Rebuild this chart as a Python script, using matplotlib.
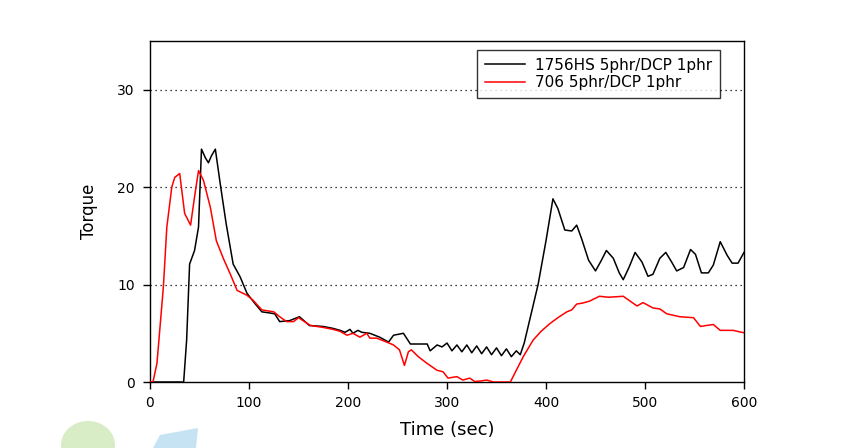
import matplotlib
matplotlib.use("Agg")
import matplotlib.pyplot as plt
from matplotlib.patches import Ellipse, Polygon

plt.rcParams['font.family'] = ['DejaVu Sans']

# ---- data ----
t_black = [0, 34, 37, 40, 45, 49, 52, 56, 59, 62, 66, 71, 77, 84, 91, 98, 106, 113,
           120, 126, 131, 141, 151, 161, 175, 185, 192, 197, 202, 205, 210, 214, 222,
           232, 241, 246, 256, 263, 270, 280, 283, 290, 295, 300, 305, 310, 315, 320,
           325, 330, 335, 340, 345, 350, 355, 360, 365, 370, 374, 378, 385, 392, 400,
           407, 412, 419, 426, 431, 436, 443, 450, 456, 461, 468, 474, 478, 484, 490,
           497, 503, 508, 515, 521, 527, 532, 539, 546, 551, 557, 564, 569, 576, 583,
           588, 594, 600]
torque_black = [0, 0, 4.3, 12.1, 13.5, 15.9, 23.9, 23.0, 22.5, 23.2, 23.9, 20.3, 16.2,
                12.1, 10.8, 9.1, 8.05, 7.2, 7.1, 7.0, 6.2, 6.3, 6.7, 5.8, 5.7, 5.5, 5.3,
                5.1, 5.4, 5.0, 5.3, 5.1, 5.0, 4.6, 4.1, 4.8, 5.0, 3.9, 3.9, 3.9, 3.2, 3.8,
                3.6, 4.0, 3.2, 3.8, 3.1, 3.8, 3.0, 3.7, 2.9, 3.6, 2.8, 3.5, 2.7, 3.4, 2.6,
                3.2, 2.8, 4.0, 7.0, 10.0, 14.5, 18.8, 17.8, 15.6, 15.5, 16.1, 14.7, 12.5,
                11.4, 12.5, 13.5, 12.7, 11.2, 10.5, 11.8, 13.3, 12.3, 10.85, 11.05, 12.7,
                13.3, 12.3, 11.4, 11.75, 13.6, 13.1, 11.2, 11.2, 12.0, 14.4, 13.0, 12.2,
                12.2, 13.3]

t_red = [0, 3, 7, 10, 13.5, 17, 22, 25, 30, 35, 41, 45, 49, 54, 61, 67, 74, 81, 88, 98,
         104, 113, 125, 131, 138, 145, 150, 162, 175, 185, 192, 199, 205, 212, 219, 222,
         229, 239, 246, 252, 257, 261, 264, 271, 280, 290, 296, 301, 310, 316, 323, 328,
         334, 340, 347, 364, 368, 377, 387, 395, 404, 412, 421, 426, 431, 437, 444, 454,
         463, 471, 478, 485, 492, 498, 508, 515, 522, 535, 549, 556, 562, 569, 576, 589,
         600]
torque_red = [0, 0, 1.9, 5.5, 9.75, 15.9, 20.0, 21.0, 21.4, 17.3, 16.1, 19.0, 21.7, 20.7,
              17.9, 14.5, 12.7, 11.1, 9.4, 8.9, 8.4, 7.4, 7.2, 6.7, 6.2, 6.2, 6.6, 5.8,
              5.6, 5.4, 5.2, 4.8, 5.0, 4.6, 5.0, 4.5, 4.5, 4.1, 3.8, 3.3, 1.7, 3.1, 3.3,
              2.6, 1.9, 1.2, 1.05, 0.4, 0.55, 0.2, 0.4, 0.05, 0.1, 0.2, 0, 0, 0.8, 2.6,
              4.3, 5.2, 6.0, 6.6, 7.2, 7.4, 8.0, 8.1, 8.3, 8.8, 8.7, 8.75, 8.8, 8.3, 7.8,
              8.15, 7.6, 7.5, 7.0, 6.7, 6.6, 5.7, 5.8, 5.9, 5.3, 5.3, 5.05]

labels = ["1756HS 5phr/DCP 1phr", "706 5phr/DCP 1phr"]
x_ticks = [0, 100, 200, 300, 400, 500, 600]
y_ticks = [0, 10, 20, 30]

# ---- figure ----
fig = plt.figure(figsize=(8.53, 4.48), dpi=100)
ax = fig.add_axes([150/853, 66/448, (744-150)/853, (382-41)/448])

for y in y_ticks[1:]:
    ax.axhline(y, color='black', lw=0.9, ls=(0, (1, 3)), zorder=1)

ax.plot(t_black, torque_black, color='black', lw=1.1, label=labels[0], zorder=3)
ax.plot(t_red, torque_red, color='red', lw=1.1, label=labels[1], zorder=3)

ax.set_xlim(0, 600)
ax.set_ylim(0, 35)
ax.set_xticks(x_ticks)
ax.set_yticks(y_ticks)
ax.tick_params(direction='out', length=5, width=1, labelsize=10, pad=5)
ax.tick_params(axis='y', pad=6)
for s in ax.spines.values():
    s.set_linewidth(1.0)

ax.set_xlabel("Time (sec)", fontsize=13, labelpad=8)
ax.set_ylabel("Torque", fontsize=12, labelpad=14)

leg = ax.legend(loc='upper right', frameon=True, fancybox=False,
                fontsize=11, handlelength=2.6, borderpad=0.5, labelspacing=0.15,
                handletextpad=0.7, borderaxespad=0)
leg.set_bbox_to_anchor(((720-150)/(744-150), 1 - (50-41)/341), transform=ax.transAxes)
leg.get_frame().set_edgecolor('black')
leg.get_frame().set_linewidth(1.0)

# faint watermark logos at the bottom left
fig.patches.append(Ellipse((88/853, 1 - 445/448), 54/853, 48/448, transform=fig.transFigure,
                           facecolor='#cfe8b8', edgecolor='none', alpha=0.8))
fig.patches.append(Polygon([(153/853, 0), (160/853, 13/448), (198/853, 20/448), (196/853, 0)],
                           closed=True, transform=fig.transFigure,
                           facecolor='#b8dcf0', edgecolor='none', alpha=0.8))

fig.savefig("out.png", dpi=100)
